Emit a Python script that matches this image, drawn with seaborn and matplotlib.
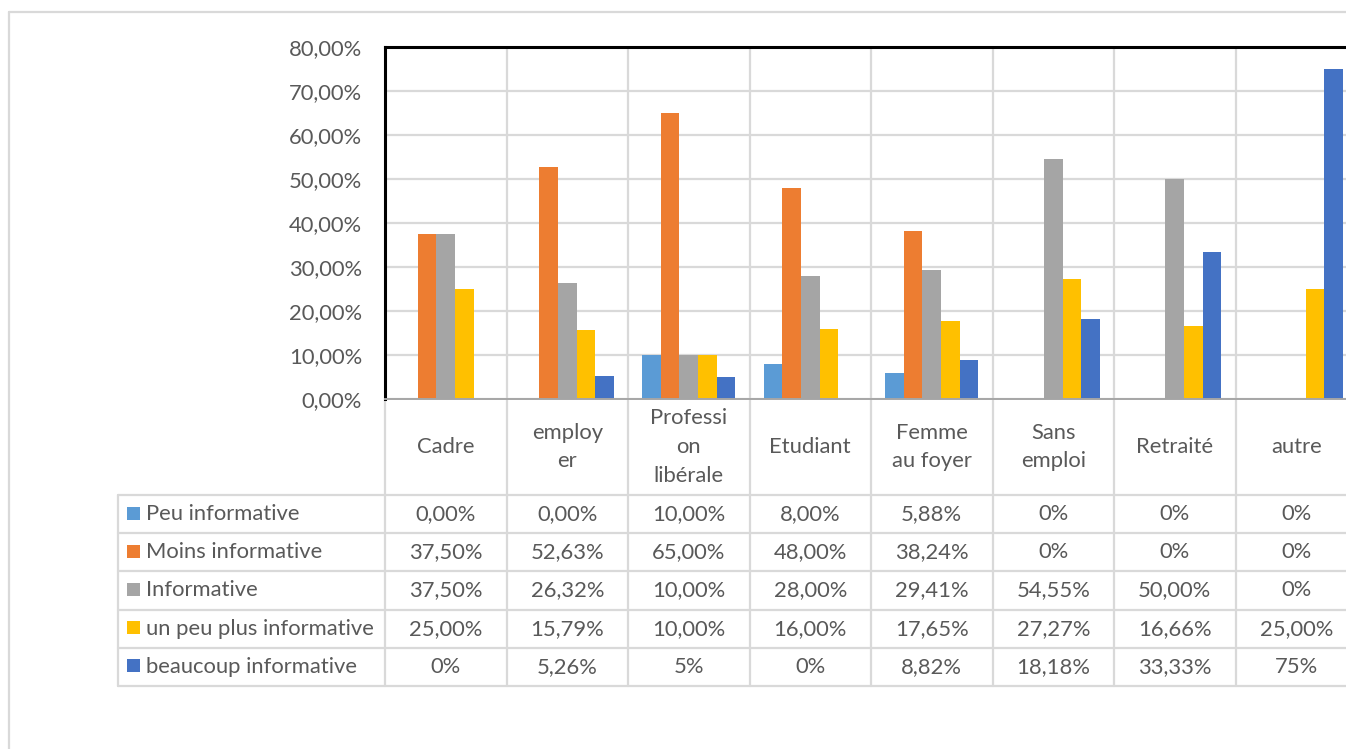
import matplotlib
matplotlib.use("Agg")
import matplotlib.pyplot as plt
import matplotlib.transforms as mtransforms
from matplotlib.lines import Line2D
import numpy as np
import pandas as pd
import seaborn as sns

# Catégories socio-professionnelles
categories = ["Cadre", "employer", "Profession libérale", "Etudiant",
              "Femme au foyer", "Sans emploi", "Retraité", "autre"]
category_labels = ["Cadre", "employ\ner", "Professi\non\nlibérale", "Etudiant",
                   "Femme\nau foyer", "Sans\nemploi", "Retraité", "autre"]

series = ["Peu informative", "Moins informative", "Informative",
          "un peu plus informative", "beaucoup informative"]

# Pourcentages par série
peu_informative = [0.00, 0.00, 10.00, 8.00, 5.88, 0, 0, 0]
moins_informative = [37.50, 52.63, 65.00, 48.00, 38.24, 0, 0, 0]
informative = [37.50, 26.32, 10.00, 28.00, 29.41, 54.55, 50.00, 0]
un_peu_plus = [25.00, 15.79, 10.00, 16.00, 17.65, 27.27, 16.66, 25.00]
beaucoup = [0, 5.26, 5, 0, 8.82, 18.18, 33.33, 75]

# Nombre de décimales affichées dans le tableau de données
decimales = [
    [2, 2, 2, 2, 2, 0, 0, 0],
    [2, 2, 2, 2, 2, 0, 0, 0],
    [2, 2, 2, 2, 2, 2, 2, 0],
    [2, 2, 2, 2, 2, 2, 2, 2],
    [0, 2, 0, 0, 2, 2, 2, 0],
]

colors = ["#5B9BD5", "#ED7D31", "#A5A5A5", "#FFC000", "#4472C4"]
y_ticks = [0, 10, 20, 30, 40, 50, 60, 70, 80]

values = [peu_informative, moins_informative, informative, un_peu_plus, beaucoup]

TEXT = "#595959"
GRID = "#D9D9D9"
FS = 15.8


def fmt_pct(v, d):
    return f"{v:.{d}f}%".replace(".", ",")


sns.set_theme(style="white")
plt.rcParams["font.family"] = ["Lato", "DejaVu Sans"]

W, H = 1346, 749
fig = plt.figure(figsize=(W / 100, H / 100), dpi=100)
fig.patch.set_facecolor("white")

ax_left, ax_right, ax_top, ax_bottom = 385, 1357, 47, 399
ax = fig.add_axes([ax_left / W, 1 - ax_bottom / H,
                   (ax_right - ax_left) / W, (ax_bottom - ax_top) / H])

df = pd.DataFrame({
    "categorie": np.tile(categories, len(series)),
    "serie": np.repeat(series, len(categories)),
    "valeur": np.concatenate(values),
})

sns.barplot(data=df, x="categorie", y="valeur", hue="serie",
            order=categories, hue_order=series, palette=colors,
            saturation=1, width=0.766, linewidth=0, legend=False, ax=ax)

n = len(categories)
ax.set_xlim(-0.5, n - 0.5)
ax.set_ylim(0, 80)
ax.set_yticks(y_ticks)
ax.set_yticklabels([fmt_pct(t, 2) for t in y_ticks])
ax.set_xticks([])
ax.set_xlabel("")
ax.set_ylabel("")
ax.tick_params(axis="y", length=0, pad=16.5, labelsize=FS, labelcolor=TEXT)

ax.set_axisbelow(True)
ax.yaxis.grid(True, color=GRID, linewidth=1.6)
for k in range(1, n):
    ax.axvline(k - 0.5, color=GRID, linewidth=1.6, zorder=0)

for side in ["top", "left"]:
    ax.spines[side].set_color("black")
    ax.spines[side].set_linewidth(2.2)
ax.spines["bottom"].set_color("#A6A6A6")
ax.spines["bottom"].set_linewidth(1.4)
ax.spines["right"].set_visible(False)

# Tableau de données sous le graphique
ax_w = ax_right - ax_left
ax_h = ax_bottom - ax_top
header_h = 96 / ax_h
row_h = 38.2 / ax_h
legend_left = (118 - ax_left) / ax_w
blend = mtransforms.blended_transform_factory(ax.transData, ax.transAxes)

n_rows = len(series)
table_bottom = -header_h - n_rows * row_h

line_kw = dict(color=GRID, linewidth=1.6, clip_on=False, zorder=1)

# lignes horizontales
for r in range(n_rows + 1):
    y = -header_h - r * row_h
    ax.add_artist(Line2D([legend_left, 1.02], [y, y], transform=ax.transAxes, **line_kw))
# lignes verticales
ax.add_artist(Line2D([legend_left, legend_left], [-header_h, table_bottom],
                     transform=ax.transAxes, **line_kw))
for k in range(n + 1):
    x = k - 0.5
    ax.add_artist(Line2D([x, x], [0, table_bottom], transform=blend, **line_kw))

# libellés de catégorie
for i, lab in enumerate(category_labels):
    ax.text(i, -header_h / 2, lab, transform=blend, ha="center", va="center",
            fontsize=FS, color=TEXT, linespacing=1.55, clip_on=False)

# lignes de séries : légende + valeurs
sq_w = 13 / ax_w
sq_h = 13 / ax_h
for r, (name, vals, decs, col) in enumerate(zip(series, values, decimales, colors)):
    yc = -header_h - (r + 0.5) * row_h
    ax.add_patch(plt.Rectangle((legend_left + 9 / ax_w, yc - sq_h / 2 + 1 / ax_h),
                               sq_w, sq_h, transform=ax.transAxes, facecolor=col,
                               edgecolor="none", clip_on=False))
    ax.text(legend_left + 28 / ax_w, yc, name, transform=ax.transAxes,
            ha="left", va="center", fontsize=FS, color=TEXT, clip_on=False)
    for i, (v, d) in enumerate(zip(vals, decs)):
        ax.text(i, yc, fmt_pct(v, d), transform=blend, ha="center", va="center",
                fontsize=FS, color=TEXT, clip_on=False)

# cadre extérieur de la zone de graphique
fig.add_artist(Line2D([9 / W, 1.0], [1 - 12 / H, 1 - 12 / H], transform=fig.transFigure,
                      color=GRID, linewidth=1.6))
fig.add_artist(Line2D([9 / W, 9 / W], [1 - 12 / H, 0], transform=fig.transFigure,
                      color=GRID, linewidth=1.6))

fig.savefig("out.png", dpi=100)
